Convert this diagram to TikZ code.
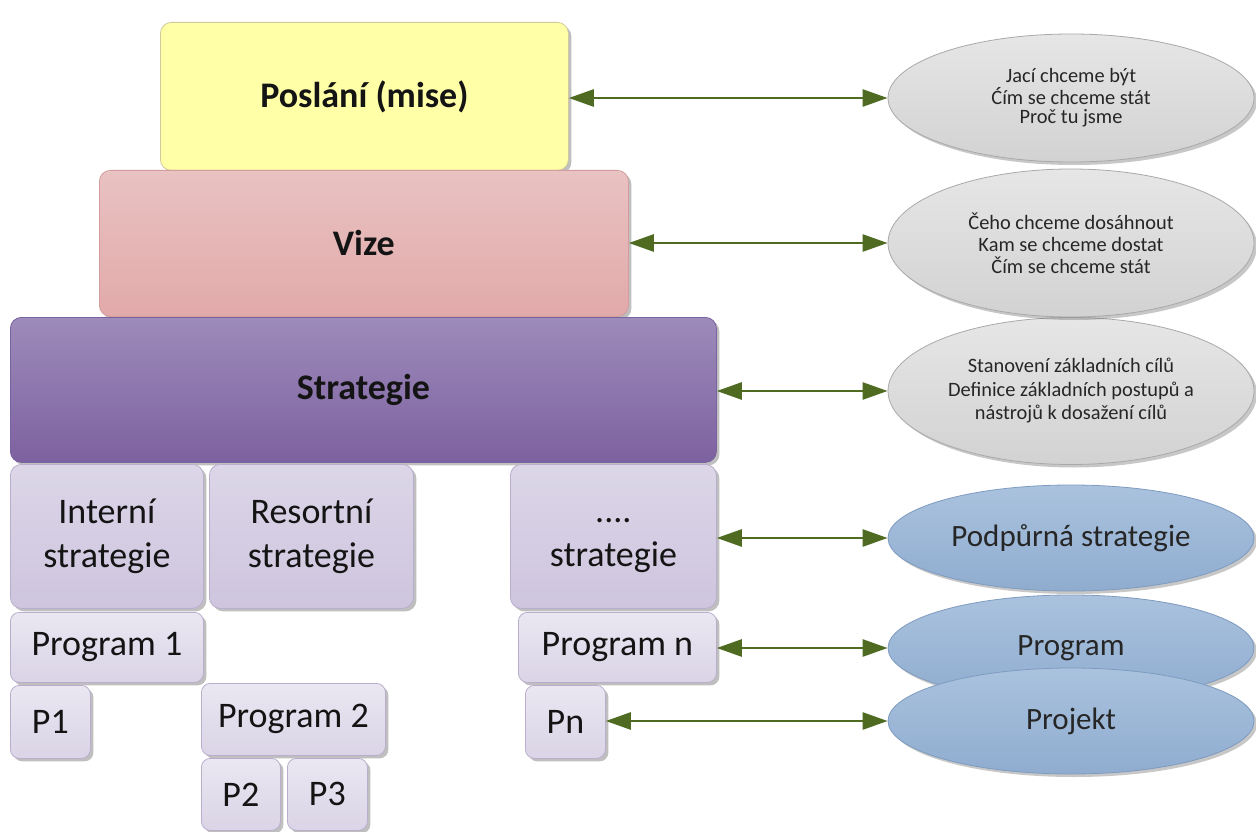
\documentclass[tikz,border=0pt]{standalone}
\usepackage{fontspec}
\setmainfont{Carlito}
\usetikzlibrary{arrows.meta,shadows,shapes.geometric}
\definecolor{arrowgreen}{HTML}{4F6B22}
\definecolor{yelfill}{HTML}{FFFFA8}
\definecolor{yelline}{HTML}{D2C99C}
\definecolor{pinktop}{HTML}{E9C2C2}
\definecolor{pinkbot}{HTML}{E2A9A9}
\definecolor{pinkline}{HTML}{D49C9C}
\definecolor{purtop}{HTML}{9D8BBA}
\definecolor{purbot}{HTML}{7D61A0}
\definecolor{purline}{HTML}{7A62A0}
\definecolor{lavtop}{HTML}{DCD6E8}
\definecolor{lavbot}{HTML}{CEC5DE}
\definecolor{lavline}{HTML}{B9AFCC}
\definecolor{ltop}{HTML}{EAE7F2}
\definecolor{lbot}{HTML}{DAD4E6}
\definecolor{graytop}{HTML}{E6E6E6}
\definecolor{graybot}{HTML}{D2D2D2}
\definecolor{grayline}{HTML}{A9A9A9}
\definecolor{bluetop}{HTML}{AAC2DE}
\definecolor{bluebot}{HTML}{8FACCF}
\definecolor{blueline}{HTML}{7E9BC0}
\begin{document}
\begin{tikzpicture}[x=1pt,y=-1pt,
  box/.style={draw, line width=0.8pt, rounded corners=11pt, anchor=north west, inner sep=0pt,
    align=center, text=black!92,
    drop shadow={shadow xshift=3pt,shadow yshift=-3pt,opacity=0.45,fill=black!55}},
  bigtxt/.style={font=\bfseries\fontsize{36}{43}\selectfont},
  midtxt/.style={font=\fontsize{36}{44}\selectfont},
  yelbox/.style={box, fill=yelfill, draw=yelline, bigtxt},
  pinkbox/.style={box, top color=pinktop, bottom color=pinkbot, draw=pinkline, bigtxt},
  purbox/.style={box, top color=purtop, bottom color=purbot, draw=purline, bigtxt},
  lavbox/.style={box, top color=lavtop, bottom color=lavbot, draw=lavline, midtxt},
  lightbox/.style={box, top color=ltop, bottom color=lbot, draw=lavline, midtxt, rounded corners=9pt},
  oval/.style={ellipse, draw, line width=0.8pt, inner sep=0pt, align=center, text=black!85,
    minimum width=366pt,
    drop shadow={shadow xshift=3pt,shadow yshift=-3pt,opacity=0.4,fill=black!55}},
  grayoval/.style={oval, top color=graytop, bottom color=graybot, draw=grayline},
  blueoval/.style={oval, top color=bluetop, bottom color=bluebot, draw=blueline,
    minimum height=106pt, font=\fontsize{31}{37}\selectfont},
  arr/.style={draw=arrowgreen, line width=2.6pt,
    {Triangle[length=25pt,width=17pt]}-{Triangle[length=25pt,width=17pt]}}
]
\useasboundingbox (0,0) rectangle (1256,832);
\fill[white] (0,0) rectangle (1256,832);

% left pyramid
\node[yelbox, minimum width=408pt, minimum height=148pt] (b1) at (160,22) {Poslání (mise)};
\node[pinkbox, minimum width=529pt, minimum height=146pt] (b2) at (99,170) {Vize};
\node[purbox, minimum width=706pt, minimum height=145pt] (b3) at (10,317) {Strategie};

\node[lavbox, minimum width=193pt, minimum height=144pt] (s1) at (10,464) {Interní\\strategie};
\node[lavbox, minimum width=204pt, minimum height=144pt] (s2) at (209,464) {Resortní\\strategie};
\node[lavbox, minimum width=206pt, minimum height=144pt] (s3) at (510,464) {\vphantom{I}....\\strategie};

\node[lightbox, minimum width=193pt, minimum height=70pt] (p1) at (10,612) {Program 1};
\node[lightbox, minimum width=198pt, minimum height=70pt] (pn) at (518,612) {Program n};
\node[lightbox, minimum width=80pt, minimum height=73pt] (q1) at (10,685) {P1};
\node[lightbox, minimum width=184pt, minimum height=72pt] (p2) at (201,683) {Program 2};
\node[lightbox, minimum width=79pt, minimum height=72pt] (q2) at (201,758) {P2};
\node[lightbox, minimum width=80pt, minimum height=72pt] (q3) at (287,758) {P3};
\node[lightbox, minimum width=80pt, minimum height=73pt] (qn) at (525,685) {Pn};

% right ovals
\node[grayoval, minimum height=147pt, font=\fontsize{20.4}{23.5}\selectfont] (e3) at (1071,391)
  {Stanovení základních cílů\\Definice základních postupů a\\nástrojů k dosažení cílů};
\node[grayoval, minimum height=148pt, font=\fontsize{20.4}{22}\selectfont] (e2) at (1071,243)
  {Čeho chceme dosáhnout\\Kam se chceme dostat\\Čím se chceme stát};
\node[grayoval, minimum height=128pt, font=\fontsize{20.4}{19.5}\selectfont] (e1) at (1071,98)
  {Jací chceme být\\Ćím se chceme stát\\Proč tu jsme};
\node[blueoval] (e4) at (1071,538) {Podpůrná strategie};
\node[blueoval] (e5) at (1071,648) {Program};
\node[blueoval] (e6) at (1071,721) {Projekt};

% connectors
\draw[arr] (b1.east |- e1.west) -- (e1.west);
\draw[arr] (b2.east |- e2.west) -- (e2.west);
\draw[arr] (b3.east |- e3.west) -- (e3.west);
\draw[arr] (s3.east |- e4.west) -- (e4.west);
\draw[arr] (pn.east |- e5.west) -- (e5.west);
\draw[arr] (qn.east |- e6.west) -- (e6.west);
\end{tikzpicture}
\end{document}
